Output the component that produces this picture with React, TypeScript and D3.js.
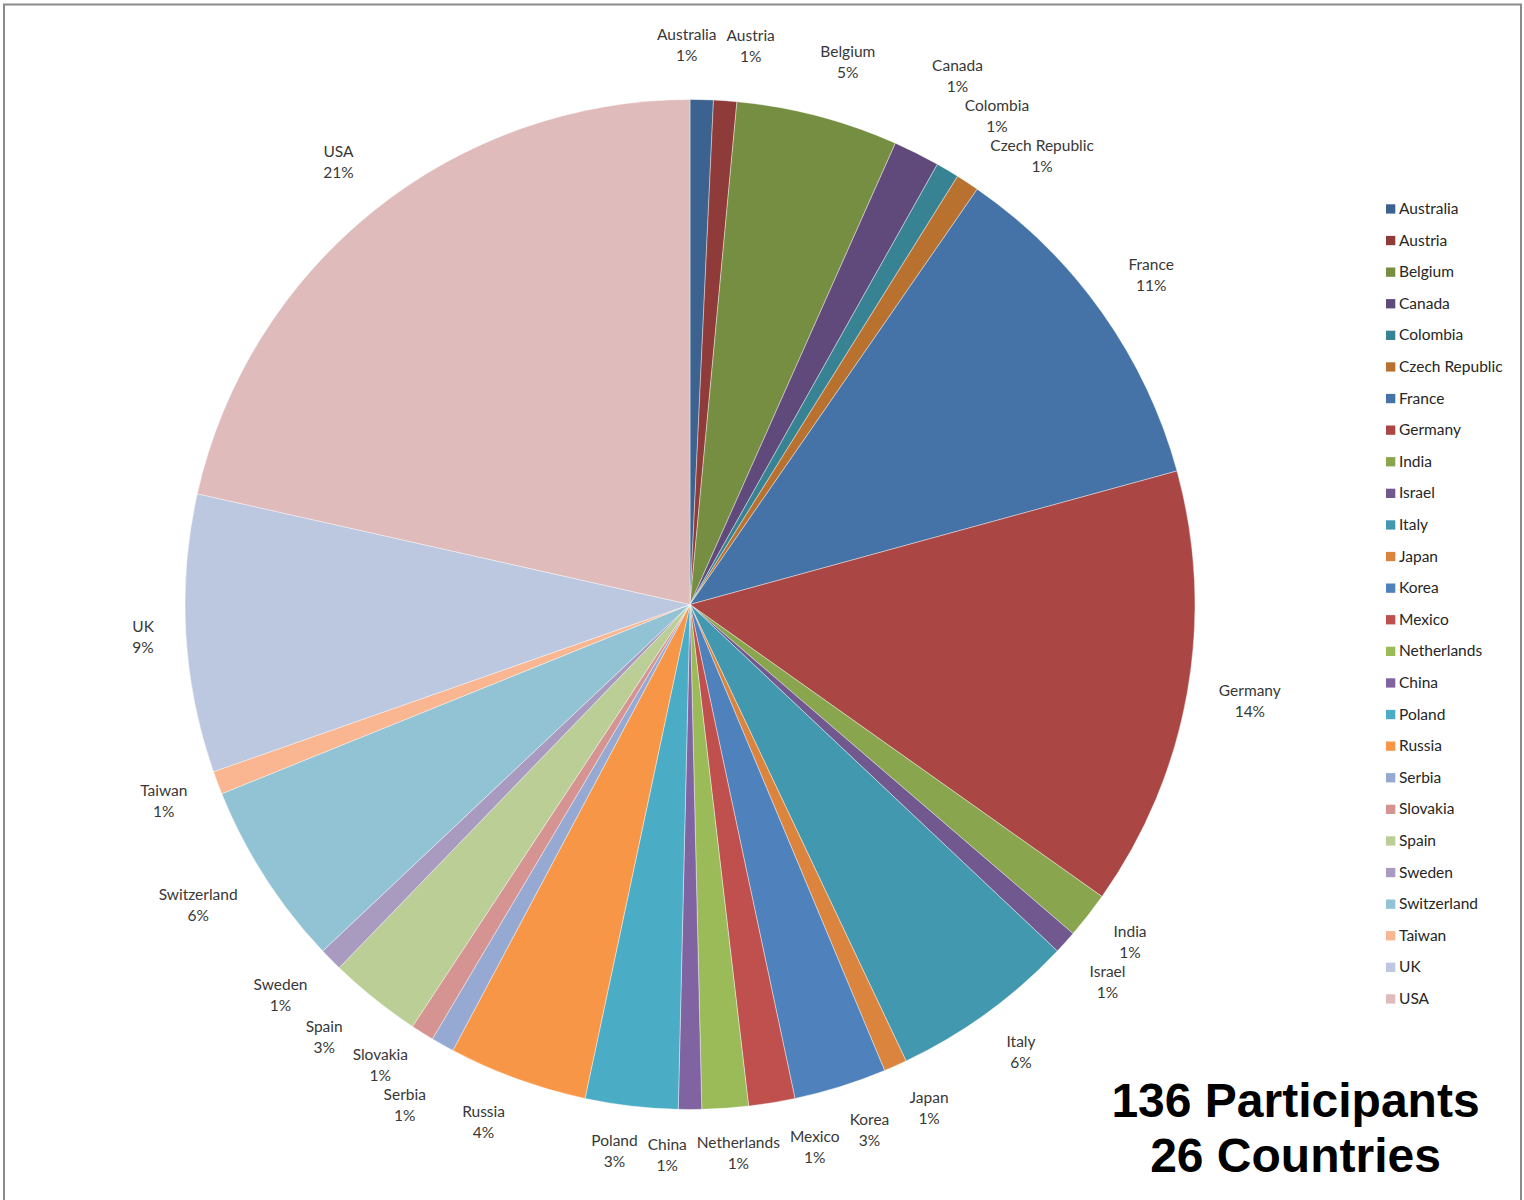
import React, { useMemo } from 'react';
import * as d3 from 'd3';

// ---- data ----
const countries = [
  'Australia', 'Austria', 'Belgium', 'Canada', 'Colombia', 'Czech Republic',
  'France', 'Germany', 'India', 'Israel', 'Italy', 'Japan', 'Korea', 'Mexico',
  'Netherlands', 'China', 'Poland', 'Russia', 'Serbia', 'Slovakia', 'Spain',
  'Sweden', 'Switzerland', 'Taiwan', 'UK', 'USA',
];
const participants = [
  1, 1, 7, 2, 1, 1,
  15, 19, 2, 1, 8, 1, 4, 2,
  2, 1, 4, 6, 1, 1, 4,
  1, 8, 1, 12, 29,
];
const titleLines = ['136 Participants', '26 Countries'];

// ---- style ----
const palette = [
  '#3C6290', '#8F3B39', '#758E42', '#604A7B', '#378394', '#B9712F',
  '#4572A7', '#AA4643', '#89A54E', '#71588F', '#4198AF', '#DB843D',
  '#4F81BD', '#C0504D', '#9BBB59', '#8064A2', '#4BACC6', '#F79646',
  '#95A9D3', '#D59391', '#BACE96', '#A99BBF', '#92C3D4', '#F9B690',
  '#BCC7E0', '#DFBBBB',
];

const W = 1524;
const H = 1200;
const CX = 690;
const CY = 604.5;
const R = 505;
const LABEL_SIZE = 15.5;
const LABEL_FONT_FAMILY = 'Lato, "Open Sans", sans-serif';
const LABEL_FONT = `${LABEL_SIZE}px Lato`;

type Lab = { x: number; y: number; hw: number; name: string; pct: string };

const clamp1 = (v: number) => Math.max(-1, Math.min(1, v));

function layoutLabels(arcs: d3.PieArcDatum<number>[], total: number): Lab[] {
  const ctx = document.createElement('canvas').getContext('2d')!;
  ctx.font = LABEL_FONT;
  const gap = 30; // distance of the label anchor outside the pie
  const offUp = 25; // vertical offset for labels above centre
  const offDown = 15; // vertical offset for labels below centre
  const hh = 19; // half height of a two-line label for collisions
  const padX = 6;
  const padY = 2;
  const minGap = 18;
  const labs: Lab[] = arcs.map((a, i) => {
    const th = (a.startAngle + a.endAngle) / 2;
    const name = countries[i];
    const pct = `${Math.round((a.value / total) * 100)}%`;
    const hw = Math.max(ctx.measureText(name).width, ctx.measureText(pct).width) / 2 + 2;
    const s = Math.sin(th);
    const c = Math.cos(th);
    const px = CX + (R + gap) * s;
    const py = CY - (R + gap) * c;
    const fx = clamp1(3 * s);
    const fy = clamp1(1.4 * c);
    return {
      x: px + hw * fx,
      y: py - fy * (c > 0 ? offUp : offDown),
      hw,
      name,
      pct,
    };
  });
  for (let it = 0; it < 300; it++) {
    for (let i = 0; i < labs.length; i++) {
      for (let j = i + 1; j < labs.length; j++) {
        const a = labs[i];
        const b = labs[j];
        const dx = b.x - a.x;
        const dy = b.y - a.y;
        const ox = a.hw + b.hw + padX - Math.abs(dx);
        const oy = 2 * hh + padY - Math.abs(dy);
        if (ox > 0 && oy > 0) {
          if (ox < oy) {
            const sh = (ox / 2) * (dx >= 0 ? 1 : -1);
            a.x -= sh;
            b.x += sh;
          } else {
            const sh = (oy / 2) * (dy >= 0 ? 1 : -1);
            a.y -= sh;
            b.y += sh;
          }
        }
      }
    }
    for (const l of labs) {
      const nx = Math.max(l.x - l.hw, Math.min(CX, l.x + l.hw));
      const ny = Math.max(l.y - hh, Math.min(CY, l.y + hh));
      const dist = Math.hypot(nx - CX, ny - CY);
      if (dist < R + minGap) {
        const vx = l.x - CX;
        const vy = l.y - CY;
        const vl = Math.hypot(vx, vy) || 1;
        const push = R + minGap - dist;
        l.x += (vx / vl) * push;
        l.y += (vy / vl) * push;
      }
      // keep labels inside the frame
      l.y = Math.max(hh + 12, Math.min(H - hh - 6, l.y));
    }
  }
  return labs;
}

export default function App() {
  const total = d3.sum(participants);
  const arcs = useMemo(
    () => d3.pie<number>().sort(null).startAngle(0).endAngle(2 * Math.PI)(participants),
    []
  );
  const arcGen = d3.arc<d3.PieArcDatum<number>>().innerRadius(0).outerRadius(R);
  const labels = useMemo(() => layoutLabels(arcs, total), [arcs, total]);
  const legendY = d3.scalePoint<string>().domain(countries).range([214, 1004]);
  const color = d3.scaleOrdinal<string, string>().domain(countries).range(palette);

  return (
    <svg
      width={W}
      height={H}
      style={{ position: 'absolute', left: 0, top: 0, background: '#fff' }}
    >
      <rect x={4} y={4.5} width={1517} height={1230} fill="#fff" stroke="#8a8a8a" strokeWidth={2} />
      <g transform={`translate(${CX},${CY})`}>
        {arcs.map((a, i) => (
          <path key={countries[i]} d={arcGen(a) || ''} fill={color(countries[i])} stroke="#fff" strokeWidth={0.4} />
        ))}
      </g>
      <g fontFamily={LABEL_FONT_FAMILY} fontSize={LABEL_SIZE} fill="#383838" textAnchor="middle">
        {labels.map((l) => (
          <text key={l.name}>
            <tspan x={l.x} y={l.y - 5}>{l.name}</tspan>
            <tspan x={l.x} y={l.y + 16}>{l.pct}</tspan>
          </text>
        ))}
      </g>
      <g fontFamily={LABEL_FONT_FAMILY} fontSize={LABEL_SIZE} fill="#262626">
        {countries.map((c) => (
          <g key={c}>
            <rect x={1386} y={(legendY(c) as number) - 9.7} width={9.3} height={9.3} fill={color(c)} />
            <text x={1399} y={legendY(c)}>{c}</text>
          </g>
        ))}
      </g>
      <g fontFamily='"Liberation Sans", Arial, sans-serif' fontWeight="bold" fontSize={48} fill="#000" textAnchor="middle">
        {titleLines.map((t, i) => (
          <text key={t} x={1295.5} y={1117 + i * 55}>{t}</text>
        ))}
      </g>
    </svg>
  );
}
